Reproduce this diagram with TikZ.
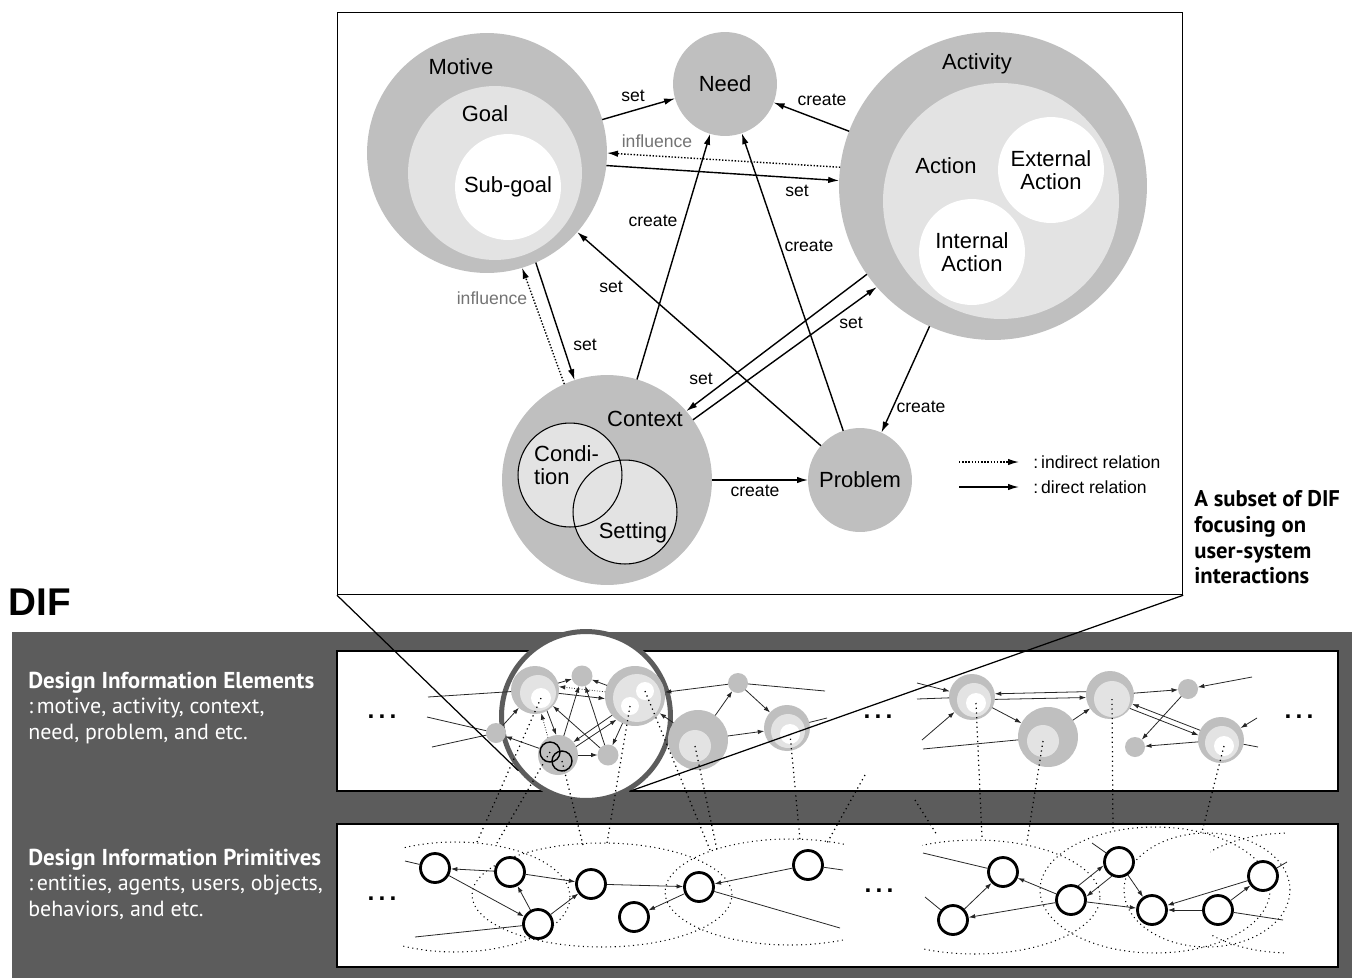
\documentclass[tikz,border=0pt]{standalone}
\usepackage{fontspec}
\setmainfont{Liberation Sans}
\newfontfamily\difsans{PT Sans}
\usetikzlibrary{arrows.meta, positioning, calc}

\definecolor{ringgray}{gray}{0.75}
\definecolor{palegray}{gray}{0.89}
\definecolor{bandgray}{gray}{0.36}
\definecolor{hintgray}{gray}{0.45}

\begin{document}
\begin{tikzpicture}[
    x=0.02cm, y=-0.02cm,
    >={Latex[length=2.2mm, width=1.3mm]}, % arrowheads of the relation diagram
    blob/.style={circle, inner sep=0pt, outer sep=0pt, minimum size=#1*0.04cm}, % #1 = radius in px
    outer/.style={blob=#1, fill=ringgray},
    pale/.style={blob=#1, fill=palegray},
    hole/.style={blob=#1, fill=white},
    name text/.style={font=\fontsize{12.5}{12.8}\selectfont, align=center},
    rel text/.style={font=\fontsize{10}{12}\selectfont, inner sep=1pt},
    rel/.style={->, line width=0.8pt},
    hint/.style={->, line width=0.8pt, densely dotted},
    mini/.style={-{Latex[length=1.3mm, width=0.9mm]}, line width=0.45pt, black!85},
    plain/.style={line width=0.45pt, black!85},
    prim/.style={circle, draw, line width=1.6pt, fill=white, inner sep=0pt, minimum size=0.58cm},
    dotlink/.style={dotted, line width=0.7pt},
    group/.style={dotted, line width=0.6pt},
    dots/.style={font=\bfseries\fontsize{14}{14}\selectfont, inner sep=0pt},
    side line/.style={font=\difsans\fontsize{12.5}{15}\selectfont, text=white, anchor=base west, inner sep=0pt},
    side head/.style={side line, font=\difsans\bfseries\fontsize{13.1}{15}\selectfont},
    row box/.style={draw, fill=white, line width=1.4pt, anchor=north west, inner sep=0pt, minimum width=1001*0.02cm}
]

\useasboundingbox (0,0) rectangle (1357,978);

% === DIF band ===
\fill[bandgray] (12,632) rectangle (1352,978);
\node[font=\bfseries\fontsize{22}{22}\selectfont, anchor=base west, inner sep=0pt] (dif title) at (8,615) {DIF};

\node[side head] (elem title) at (28,688) {Design Information Elements};
\node[side line] (elem list a) at (28,713.5) {:\,motive, activity, context,};
\node[side line] (elem list b) at (28,739) {need, problem, and etc.};
\node[side head] (prim title) at (28,865) {Design Information Primitives};
\node[side line] (prim list a) at (28,890.5) {:\,entities, agents, users, objects,};
\node[side line] (prim list b) at (28,916) {behaviors, and etc.};

\node[row box, minimum height=140*0.02cm] (elembox) at (336,650) {};
\node[row box, minimum height=143*0.02cm] (primbox) at (336,823) {};

% === Primitives row ===
\begin{scope}
  \clip (403,830) rectangle (1000,970);
  \draw[group] (455,897) ellipse [x radius=2.3cm, y radius=1.1cm];
\end{scope}
\draw[group] (602,895) ellipse [x radius=2.6cm, y radius=1.04cm];
\begin{scope}
  \clip (600,830) rectangle (845,970);
  \draw[group] (790,892) ellipse [x radius=2.5cm, y radius=1.06cm];
\end{scope}
\begin{scope}
  \clip (922,830) rectangle (1200,970);
  \draw[group] (975,897) ellipse [x radius=2.5cm, y radius=1.14cm];
\end{scope}
\draw[group] (1155,890) ellipse [x radius=2.3cm, y radius=1.26cm];
\draw[group] (1207,890) ellipse [x radius=1.66cm, y radius=1.14cm];
\begin{scope}
  \clip (1210,830) rectangle (1287,970);
  \draw[group] (1290,893) ellipse [x radius=2.2cm, y radius=1.2cm];
\end{scope}

\foreach \name/\x/\y in {p1/435/868, p2/510/872, p3/591/884, p4/538/924, p5/634/917,
                         p6/699/887, p7/808/865, q1/1003/872, q2/953/920, q3/1071/900,
                         q4/1119/862, q5/1152/910, q6/1218/910, q7/1263/876}
  \node[prim] (\name) at (\x,\y) {};

\coordinate (p free a) at (405,861);
\coordinate (p free b) at (415,937);
\coordinate (p free c) at (843,870);
\coordinate (p free d) at (840,928);
\draw[plain] (p free a) -- (p1);
\draw[mini] (p2) -- (p1);
\draw[mini] (p1) -- (p4);
\draw[mini] (p4) -- (p2);
\draw[mini] (p2) -- (p3);
\draw[mini] (p4) -- (p3);
\draw[plain] (p free b) -- (p4);
\draw[mini] (p3) -- (p6);
\draw[mini] (p6) -- (p5);
\draw[mini] (p7) -- (p6);
\draw[plain] (p7) -- (p free c);
\draw[plain] (p6) -- (p free d);

\coordinate (q free a) at (923,853);
\coordinate (q free b) at (925,897);
\coordinate (q free c) at (1092,843);
\coordinate (q free d) at (1283,920);
\coordinate (q free e) at (1287,862);
\draw[plain] (q free a) -- (q1);
\draw[mini] (q2) -- (q1);
\draw[plain] (q free b) -- (q2);
\draw[mini] (q3) -- (q1);
\draw[mini] (q3) -- (q2);
\draw[mini] (q3.63) -- (q4.193);
\draw[mini] (q4.243) -- (q3.13);
\draw[plain] (q free c) -- (q4);
\draw[mini] (q3) -- (q5);
\draw[mini] (q4) -- (q5);
\draw[mini] (q6) -- (q5);
\draw[mini] (q7) -- (q5);
\draw[mini] (q6) -- (q7);
\draw[plain] (q6) -- (q free d);
\draw[plain] (q7) -- (q free e);

\node[dots] (prim dots a) at (382,899) {.\,.\,.};
\node[dots] (prim dots b) at (879,891) {.\,.\,.};

% === Elements row ===
\node[circle, draw=bandgray, line width=0.1cm, fill=white, inner sep=0pt, minimum size=3.38cm] (lens) at (586,716) {};

\node[outer=24] (m motive) at (535,690) {};
\node[pale=18] (m goal) at (538,693) {};
\node[hole=10] (m subgoal) at (541,698) {};
\node[outer=10.5] (m need) at (582,676) {};
\node[outer=30] (m activity) at (635,696) {};
\node[pale=24] (m action) at (637,698) {};
\node[hole=9] (m external) at (645,691) {};
\node[hole=9] (m internal) at (630,706) {};
\node[outer=20] (m context) at (558,755) {};
\node[blob=10, draw, line width=0.8pt] (m condition) at (550,752) {};
\node[blob=10, draw, line width=0.8pt] (m setting) at (562,761) {};
\node[outer=10.5] (m problem) at (608,755) {};
\node[outer=10] (m side) at (496,733) {};
\node[outer=30] (m big) at (698,740) {};
\node[pale=16] (m big core) at (695,746) {};
\node[outer=10] (m small) at (738,683) {};
\node[outer=23] (m right) at (787,728) {};
\node[pale=17] (m right goal) at (788,731) {};
\node[hole=10] (m right core) at (790,734) {};

\node[outer=23] (n a) at (972,697) {};
\node[pale=17] (n a goal) at (974,700) {};
\node[hole=10] (n a core) at (976,703) {};
\node[outer=30] (n b) at (1048,737) {};
\node[pale=16] (n b core) at (1043,741) {};
\node[outer=24] (n c) at (1110,695) {};
\node[pale=18] (n c core) at (1112,699) {};
\node[outer=10] (n d) at (1188,689) {};
\node[outer=10] (n e) at (1135,747) {};
\node[outer=23] (n f) at (1221,740) {};
\node[pale=17] (n f goal) at (1222,743) {};
\node[hole=10] (n f core) at (1224,746) {};

\draw[mini] (m motive) -- (m need);
\draw[mini] (m activity) -- (m need);
\draw[mini, densely dotted] (m activity.172) -- (m motive.8);
\draw[mini] (m motive.-8) -- (m activity.185);
\draw[mini] (m context) -- (m need);
\draw[mini] (m problem) -- (m need);
\draw[mini] (m problem) -- (m motive);
\draw[mini] (m motive.-60) -- (m context.95);
\draw[mini, densely dotted] (m context.120) -- (m motive.-75);
\draw[mini] (m activity.220) -- (m context.40);
\draw[mini] (m context.25) -- (m activity.232);
\draw[mini] (m activity) -- (m problem);
\draw[mini] (m context) -- (m problem);
\draw[mini] (m side) -- (m motive);
\draw[mini] (m context) -- (m side);
\coordinate (m free a) at (428,697);
\coordinate (m free b) at (427,717);
\coordinate (m free c) at (432,747);
\coordinate (m free d) at (825,691);
\coordinate (m free e) at (827,718);
\draw[plain] (m free a) -- (m motive);
\draw[plain] (m free b) -- (m side);
\draw[plain] (m free c) -- (m side);
\draw[mini] (m small) -- (m activity);
\draw[plain] (m free d) -- (m small);
\draw[mini] (m big) -- (m small);
\draw[mini] (m small) -- (m right);
\draw[mini] (m big) -- (m right);
\draw[plain] (m free e) -- (m right);
\draw[mini] (m big) -- (m activity);

\coordinate (n free a) at (917,683);
\coordinate (n free b) at (917,699);
\coordinate (n free c) at (922,740);
\coordinate (n free d) at (923,749);
\coordinate (n free e) at (1252,677);
\coordinate (n free f) at (1257,718);
\coordinate (n free g) at (1258,747);
\draw[mini] (n free a) -- (n a);
\draw[plain] (n free b) -- (n a);
\draw[mini] (n free c) -- (n a);
\draw[plain] (n free d) -- (n b);
\draw[mini] (n a) -- (n b);
\draw[mini] (n b) -- (n c);
\draw[mini] (n c.172) -- (n a.8);
\draw[mini] (n a.-6) -- (n c.186);
\draw[mini] (n c) -- (n d);
\draw[mini] (n free e) -- (n d);
\draw[mini] (n d) -- (n e);
\draw[mini] (n f) -- (n e);
\draw[mini] (n c.-34) -- (n f.168);
\draw[mini] (n f.155) -- (n c.-22);
\draw[mini] (n free f) -- (n f);
\draw[plain] (n f) -- (n free g);

\node[dots] (elem dots a) at (382,717) {.\,.\,.};
\node[dots] (elem dots b) at (878,717) {.\,.\,.};
\node[dots] (elem dots c) at (1299,717) {.\,.\,.};

% dotted links between the two rows
\coordinate (link a) at (477,842);
\coordinate (link b) at (497,843);
\coordinate (link c) at (583,845);
\coordinate (link d) at (607,843);
\coordinate (link e) at (710,850);
\coordinate (link f) at (717,850);
\coordinate (link g) at (800,840);
\coordinate (link h top) at (865,775);
\coordinate (link h) at (827,843);
\coordinate (link i top) at (915,800);
\coordinate (link i) at (937,835);
\coordinate (link j) at (982,838);
\coordinate (link k) at (1027,842);
\coordinate (link l) at (1113,830);
\coordinate (link m) at (1202,832);
\draw[dotlink] (m subgoal.center) -- (link a);
\draw[dotlink] (m condition.center) -- (link b);
\draw[dotlink] (m setting.center) -- (link c);
\draw[dotlink] (m internal.center) -- (link d);
\draw[dotlink] (m external.center) -- (link e);
\draw[dotlink] (m big core.center) -- (link f);
\draw[dotlink] (m right core.center) -- (link g);
\draw[dotlink] (link h top) -- (link h);
\draw[dotlink] (link i top) -- (link i);
\draw[dotlink] (n a core.center) -- (link j);
\draw[dotlink] (n b core.center) -- (link k);
\draw[dotlink] (n c core.center) -- (link l);
\draw[dotlink] (n f core.center) -- (link m);

% === Zoomed subset ===
\node[draw, line width=0.7pt, anchor=north west, inner sep=0pt,
      minimum width=845*0.02cm, minimum height=582*0.02cm] (zoombox) at (337,12) {};
\draw[line width=0.7pt] (zoombox.south west) -- (lens.219);
\draw[line width=0.7pt] (zoombox.south east) -- (lens.-60);

\node[font=\difsans\bfseries\fontsize{12.9}{14.7}\selectfont, align=left, anchor=north west, inner sep=0pt]
    (subset note) at (1194,490) {A subset of DIF\\focusing on\\user-system\\interactions};

\node[outer=120] (motive) at (487,153) {};
\node[pale=87] (goal) at (495,173) {};
\node[hole=53, name text] (subgoal) at (508,187) {Sub-goal};
\node[name text] (motive title) at (461,67) {Motive};
\node[name text] (goal title) at (485,114) {Goal};

\node[outer=52, name text] (need) at (725,84) {Need};

\node[outer=154] (activity) at (993,186) {};
\node[pale=118] (action) at (1001,201) {};
\node[hole=53, name text] (external) at (1051,170) {External\\Action};
\node[hole=53, name text] (internal) at (972,252) {Internal\\Action};
\node[name text] (activity title) at (977,64) {Activity};
\node[name text] (action title) at (946,166) {Action};

\node[outer=105] (context) at (607,480) {};
\node[pale=52] (condition) at (570,475) {};
\node[pale=52] (setting) at (625,512) {};
\node[blob=52, draw, line width=0.6pt] (condition rim) at (condition) {};
\node[blob=52, draw, line width=0.6pt] (setting rim) at (setting) {};
\node[name text, align=left, anchor=west] (condition title) at (528,465) {Condi-\\tion};
\node[name text] (setting title) at (633,533) {Setting};
\node[name text] (context title) at (645,419) {Context};

\node[outer=52, name text] (problem) at (860,480) {Problem};

% relations
\draw[rel] (motive) -- (need);
\draw[rel] (activity) -- (need);
\draw[hint] (activity.173) -- (motive.0);
\draw[rel] (motive.-6) -- (activity.178);
\draw[rel] (context) -- (need);
\draw[rel] (problem) -- (need);
\draw[rel] (problem) -- (motive);
\draw[rel] (motive.-66) -- (context.108);
\draw[hint] (context.114) -- (motive.-73);
\draw[rel] (activity.215) -- (context.41);
\draw[rel] (context.35) -- (activity.221);
\draw[rel] (activity) -- (problem);
\draw[rel] (context) -- (problem);

\node[rel text] (set need) at (633,96) {set};
\node[rel text] (create need a) at (822,100) {create};
\node[rel text, text=hintgray] (influence top) at (657,141) {influence};
\node[rel text] (set activity) at (797,191) {set};
\node[rel text] (create need b) at (653,221) {create};
\node[rel text] (create need c) at (809,246) {create};
\node[rel text] (set motive) at (611,287) {set};
\node[rel text, text=hintgray] (influence side) at (492,298) {influence};
\node[rel text] (set context a) at (585,345) {set};
\node[rel text] (set context b) at (701,379) {set};
\node[rel text] (set activity b) at (851,323) {set};
\node[rel text] (create problem a) at (921,407) {create};
\node[rel text] (create problem b) at (755,491) {create};

% legend
\coordinate (indirect tail) at (959,462);
\coordinate (indirect tip) at (1019,462);
\coordinate (direct tail) at (959,487);
\coordinate (direct tip) at (1019,487);
\draw[hint] (indirect tail) -- (indirect tip);
\draw[rel] (direct tail) -- (direct tip);
\node[rel text, right=7pt of indirect tip] (indirect text) {:\,indirect relation};
\node[rel text, right=7pt of direct tip] (direct text) {:\,direct relation};

\end{tikzpicture}
\end{document}
